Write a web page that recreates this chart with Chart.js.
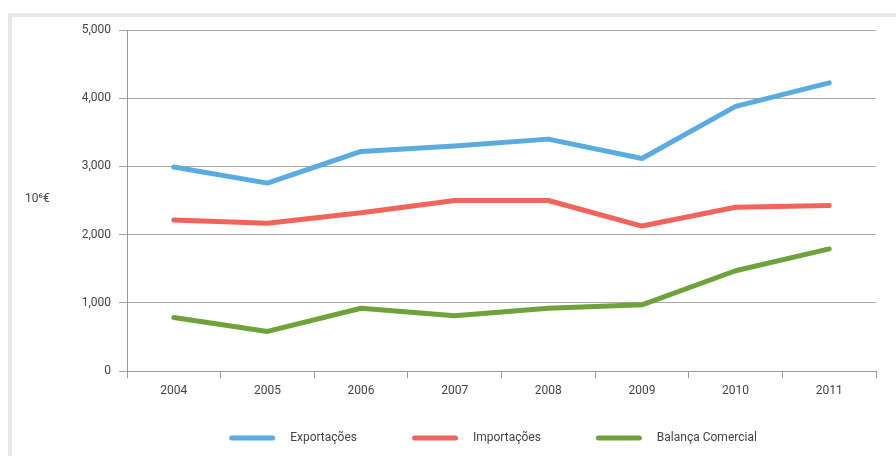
<!DOCTYPE html>
<html>
<head>
<meta charset="utf-8">
<script src="https://cdn.jsdelivr.net/npm/chart.js@4/dist/chart.umd.min.js"></script>
<style>
  html, body { margin: 0; padding: 0; background: #fff; overflow: hidden; }
  #frame {
    position: absolute; left: 8px; top: 13px;
    width: 1000px; height: 600px;
    border: 4px solid #e8e8e8; box-sizing: border-box;
  }
  #wrap { position: absolute; left: 0; top: 0; width: 896px; height: 456px; }
</style>
</head>
<body>
<div id="frame"></div>
<div id="wrap"><canvas id="balanca"></canvas></div>
<script>
const anos = ['2004', '2005', '2006', '2007', '2008', '2009', '2010', '2011'];
const exportacoes = [2990, 2755, 3220, 3300, 3400, 3115, 3880, 4225];
const importacoes = [2215, 2165, 2320, 2500, 2500, 2125, 2400, 2425];
const balanca = [785, 580, 920, 810, 920, 970, 1470, 1790];
const yTicks = [0, 1000, 2000, 3000, 4000, 5000];
const unidade = '10⁶€';

const FONT = 'Roboto, "Noto Sans", sans-serif';
const TXT = '#444';

// legend swatch: rounded bar on the right part of a wider canvas
function swatch(color) {
  const c = document.createElement('canvas');
  c.width = 100; c.height = 8;
  const g = c.getContext('2d');
  g.strokeStyle = color;
  g.lineWidth = 5;
  g.lineCap = 'round';
  g.beginPath();
  g.moveTo(47.5, 4);
  g.lineTo(88.5, 4);
  g.stroke();
  return c;
}

function serie(label, data, color) {
  return {
    label: label,
    data: data,
    borderColor: color,
    backgroundColor: color,
    borderWidth: 5,
    borderCapStyle: 'round',
    borderJoinStyle: 'round',
    pointRadius: 0,
    pointHoverRadius: 0,
    pointStyle: swatch(color),
    tension: 0
  };
}

// unit label drawn horizontally left of the value axis
const unitLabel = {
  id: 'unitLabel',
  afterDraw(chart) {
    const ctx = chart.ctx;
    ctx.save();
    ctx.font = '12px ' + FONT;
    ctx.fillStyle = TXT;
    ctx.textAlign = 'left';
    ctx.textBaseline = 'middle';
    ctx.fillText(unidade, 25, 199);
    ctx.restore();
  }
};

new Chart(document.getElementById('balanca'), {
  type: 'line',
  data: {
    labels: anos,
    datasets: [
      serie('Exportações', exportacoes, '#5aabe0'),
      serie('Importações', importacoes, '#f2635b'),
      serie('Balança Comercial', balanca, '#6ea23b')
    ]
  },
  plugins: [unitLabel],
  options: {
    responsive: true,
    maintainAspectRatio: false,
    animation: false,
    locale: 'en-US',
    layout: { padding: { left: 65, right: 20, top: 30, bottom: 2 } },
    scales: {
      x: {
        offset: true,
        grid: { offset: true, drawOnChartArea: false, tickLength: 7, color: '#999', lineWidth: 1 },
        border: { color: '#999', width: 1 },
        ticks: { color: TXT, font: { family: FONT, size: 12 }, padding: 6, maxRotation: 0 },
        afterFit: s => { s.height = 51; }
      },
      y: {
        min: 0,
        max: 5000,
        afterBuildTicks: s => { s.ticks = yTicks.map(v => ({ value: v })); },
        grid: { color: '#a6a6a6', lineWidth: 1, tickLength: 8 },
        border: { color: '#999', width: 1 },
        ticks: { color: TXT, font: { family: FONT, size: 12 }, padding: 8 },
        afterFit: s => { s.width = 62; }
      }
    },
    plugins: {
      legend: {
        position: 'bottom',
        labels: {
          usePointStyle: true,
          pointStyleWidth: 100,
          padding: 10,
          color: TXT,
          font: { family: FONT, size: 12 }
        }
      },
      tooltip: { enabled: false }
    }
  }
});
</script>
</body>
</html>
